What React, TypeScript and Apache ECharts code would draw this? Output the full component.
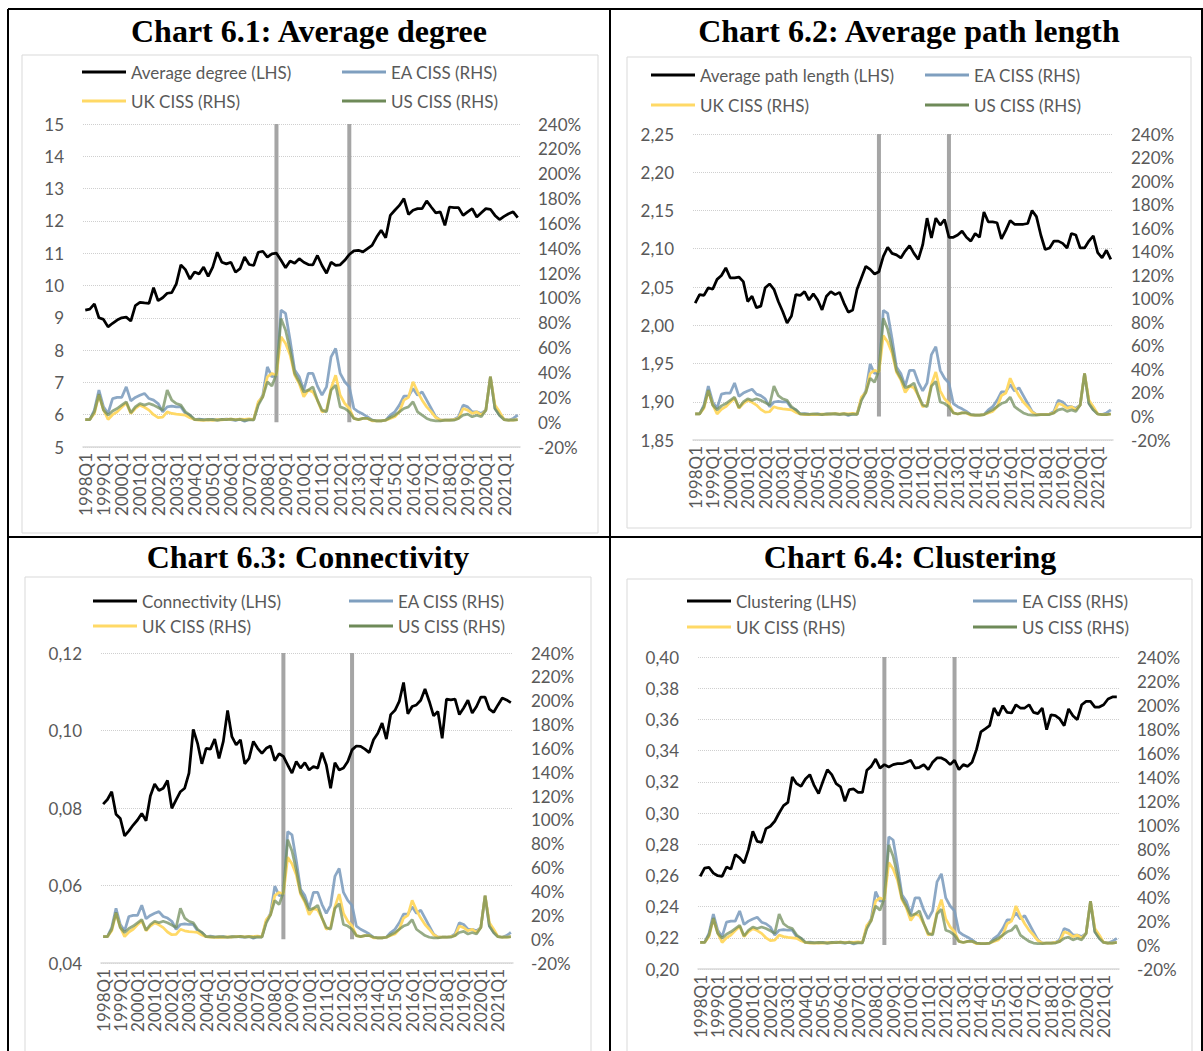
import React, { useEffect, useRef } from "react";
import * as echarts from "echarts";

// Quarterly categories 1998Q1 .. 2021Q4
const years = Array.from({ length: 24 }, (_, k) => 1998 + k);
const quarters: string[] = [];
for (const y of years) for (let q = 1; q <= 4; q++) quarters.push(`${y}Q${q}`);

// Quarters highlighted with a grey vertical marker (RHS scale, full height)
const markerQuarters = ["2008Q3", "2012Q3"];
const markerHeight = 240;

// Composite Indicator of Systemic Stress, % (RHS)
const eaCiss = [
  2.1, 2.1, 9.7, 25.8, 12.3, 7.0, 19.0, 19.9, 19.9, 28.4,
  17.1, 19.9, 21.7, 23.1, 19.0, 17.7, 15.0, 8.3, 12.3, 12.9,
  12.3, 12.3, 7.0, 5.6, 2.1, 2.5, 2.0, 1.8, 2.2, 1.6,
  2.0, 2.4, 2.0, 1.5, 2.4, 0.8, 2.2, 1.8, 15.0, 21.7,
  44.5, 36.5, 37.8, 90.2, 87.5, 66.0, 41.9, 36.5, 25.8, 39.2,
  39.2, 29.0, 21.7, 28.4, 52.6, 59.3, 39.2, 32.5, 28.4, 11.0,
  8.3, 6.5, 4.3, 1.6, 1.1, 1.1, 1.6, 5.6, 8.3, 13.7,
  20.9, 20.9, 27.1, 21.7, 24.4, 17.7, 11.0, 4.3, 1.6, 1.6,
  1.6, 2.1, 4.3, 13.7, 12.3, 8.3, 8.3, 7.0, 9.7, 36.5,
  11.0, 5.6, 2.1, 1.6, 3.0, 5.6,
];
const ukCiss = [
  2.1, 2.1, 7.0, 21.7, 10.0, 2.1, 6.0, 8.3, 12.0, 15.5,
  7.0, 11.0, 13.7, 12.0, 9.7, 6.0, 3.7, 4.0, 8.3, 7.0,
  6.4, 6.0, 5.6, 3.5, 2.1, 1.6, 1.5, 1.8, 1.5, 2.0,
  1.8, 2.2, 2.4, 2.0, 2.4, 2.2, 2.6, 2.0, 16.4, 20.4,
  36.5, 39.2, 37.8, 68.7, 63.3, 54.0, 37.8, 31.1, 20.4, 25.8,
  24.4, 17.7, 8.3, 9.7, 27.1, 37.8, 21.7, 15.0, 11.0, 3.0,
  2.1, 3.0, 3.0, 1.1, 1.1, 1.1, 1.6, 3.0, 4.3, 8.3,
  17.7, 19.9, 32.5, 24.4, 17.7, 12.3, 8.3, 3.7, 1.6, 1.6,
  1.6, 2.1, 3.0, 11.0, 9.7, 7.0, 8.3, 5.6, 9.7, 36.5,
  13.7, 8.3, 2.1, 1.6, 1.6, 2.1,
];
const usCiss = [
  2.1, 2.1, 8.3, 22.5, 9.7, 5.6, 9.0, 11.0, 13.7, 16.4,
  7.5, 12.3, 15.0, 13.7, 15.0, 13.7, 11.8, 9.7, 25.8, 17.7,
  15.0, 13.7, 8.3, 5.6, 2.1, 2.0, 1.8, 2.2, 2.0, 1.6,
  2.2, 2.0, 2.4, 1.8, 2.2, 1.5, 2.0, 1.8, 13.7, 20.4,
  32.5, 29.0, 39.2, 83.4, 74.0, 58.0, 39.2, 32.5, 24.4, 25.8,
  28.4, 17.7, 9.7, 8.3, 25.8, 29.8, 12.3, 11.0, 8.3, 3.0,
  2.1, 3.0, 3.0, 1.6, 1.1, 1.1, 1.6, 3.7, 5.6, 8.3,
  11.0, 12.3, 16.4, 8.3, 5.6, 3.0, 1.6, 1.1, 1.1, 1.6,
  1.6, 1.6, 3.0, 5.6, 6.5, 4.3, 5.6, 4.3, 9.7, 36.5,
  11.0, 5.6, 2.1, 1.6, 1.6, 2.1,
];

// Network measures (LHS)
const averageDegree = [
  9.24, 9.27, 9.43, 9.0, 8.95, 8.72, 8.83, 8.93, 9.0, 9.02,
  8.9, 9.38, 9.48, 9.46, 9.45, 9.93, 9.53, 9.62, 9.76, 9.78,
  10.05, 10.64, 10.49, 10.2, 10.42, 10.36, 10.57, 10.28, 10.57, 11.03,
  10.72, 10.67, 10.72, 10.41, 10.52, 10.88, 10.65, 10.62, 11.03, 11.06,
  10.88, 10.98, 11.0, 10.78, 10.55, 10.76, 10.69, 10.83, 10.72, 10.65,
  10.64, 10.93, 10.62, 10.38, 10.72, 10.62, 10.64, 10.78, 10.96, 11.07,
  11.09, 11.04, 11.14, 11.24, 11.5, 11.71, 11.48, 12.17, 12.33, 12.48,
  12.69, 12.2, 12.33, 12.38, 12.38, 12.62, 12.43, 12.25, 12.28, 11.86,
  12.43, 12.41, 12.41, 12.17, 12.28, 12.38, 12.12, 12.25, 12.38, 12.36,
  12.17, 12.04, 12.14, 12.22, 12.28, 12.1,
];
const averagePathLength = [
  2.029, 2.04, 2.039, 2.049, 2.047, 2.06, 2.065, 2.075, 2.062, 2.062,
  2.063, 2.057, 2.031, 2.038, 2.023, 2.025, 2.049, 2.054, 2.047, 2.031,
  2.018, 2.003, 2.012, 2.04, 2.039, 2.044, 2.033, 2.041, 2.033, 2.02,
  2.038, 2.044, 2.04, 2.043, 2.029, 2.017, 2.02, 2.047, 2.062, 2.077,
  2.073, 2.067, 2.07, 2.09, 2.102, 2.094, 2.092, 2.088, 2.097, 2.104,
  2.094, 2.086, 2.105, 2.14, 2.114, 2.14, 2.131, 2.138, 2.115, 2.115,
  2.118, 2.123, 2.115, 2.11, 2.12, 2.115, 2.148, 2.135, 2.135, 2.134,
  2.113, 2.124, 2.137, 2.132, 2.132, 2.132, 2.133, 2.15, 2.142, 2.118,
  2.099, 2.101, 2.11, 2.11, 2.107, 2.101, 2.12, 2.118, 2.101, 2.101,
  2.11, 2.117, 2.095, 2.088, 2.098, 2.086,
];
const connectivity = [
  0.081, 0.0822, 0.0842, 0.0784, 0.0773, 0.0728, 0.0741, 0.0756, 0.0769, 0.0786,
  0.0767, 0.0831, 0.0862, 0.0845, 0.0851, 0.0871, 0.0799, 0.0821, 0.0842, 0.0851,
  0.089, 0.1003, 0.0967, 0.0914, 0.0954, 0.0952, 0.0978, 0.0928, 0.0972, 0.1052,
  0.0984, 0.0963, 0.0976, 0.0914, 0.0928, 0.0972, 0.0954, 0.0941, 0.0954, 0.096,
  0.0922, 0.094, 0.0933, 0.0911, 0.089, 0.092, 0.0903, 0.0917, 0.0898, 0.0907,
  0.0903, 0.0943, 0.0911, 0.0851, 0.0917, 0.0898, 0.0903, 0.092, 0.095, 0.096,
  0.0959, 0.0952, 0.0943, 0.0976, 0.0993, 0.1019, 0.0978, 0.1041, 0.1052, 0.1075,
  0.1124, 0.1043, 0.1062, 0.1066, 0.1078, 0.1107, 0.1075, 0.1038, 0.1049, 0.098,
  0.1081, 0.1079, 0.1081, 0.1041, 0.1058, 0.1078, 0.1045, 0.1062, 0.1086, 0.1086,
  0.1055, 0.1047, 0.1066, 0.1084, 0.1079, 0.1072,
];
const clustering = [
  0.2594, 0.2647, 0.2652, 0.2615, 0.2598, 0.2594, 0.2654, 0.2641, 0.2733, 0.2712,
  0.2679, 0.2765, 0.2882, 0.2818, 0.2812, 0.29, 0.2915, 0.2947, 0.3, 0.3047,
  0.3068, 0.3231, 0.3188, 0.3171, 0.3218, 0.3246, 0.3175, 0.3124, 0.3203, 0.3278,
  0.3246, 0.3188, 0.3167, 0.3075, 0.315, 0.3154, 0.3132, 0.3132, 0.3274, 0.3299,
  0.3346, 0.3288, 0.331, 0.3295, 0.331, 0.3316, 0.3316, 0.3325, 0.3338, 0.3288,
  0.3293, 0.331, 0.3278, 0.3325, 0.3353, 0.3353, 0.3338, 0.331, 0.3338, 0.3278,
  0.331, 0.3299, 0.3325, 0.3406, 0.352, 0.354, 0.356, 0.3673, 0.3624, 0.3688,
  0.3645, 0.3641, 0.3694, 0.3673, 0.3673, 0.3694, 0.3645, 0.3637, 0.3673, 0.3534,
  0.363, 0.3624, 0.3603, 0.356, 0.3667, 0.3624, 0.3598, 0.3694, 0.3716, 0.3716,
  0.3679, 0.3679, 0.3694, 0.3731, 0.3744, 0.3744,
];

const panels = [
  { title: "Chart 6.1: Average degree", lhsName: "Average degree (LHS)", lhs: averageDegree, min: 5, max: 15, interval: 1, decimals: 0 },
  { title: "Chart 6.2: Average path length", lhsName: "Average path length (LHS)", lhs: averagePathLength, min: 1.85, max: 2.25, interval: 0.05, decimals: 2 },
  { title: "Chart 6.3: Connectivity", lhsName: "Connectivity (LHS)", lhs: connectivity, min: 0.04, max: 0.12, interval: 0.02, decimals: 2 },
  { title: "Chart 6.4: Clustering", lhsName: "Clustering (LHS)", lhs: clustering, min: 0.2, max: 0.4, interval: 0.02, decimals: 2 },
];

// Page layout of the four cells (px)
const layouts = [
  { titleX: 309, titleY: 31, frame: [22, 55, 576, 478], grid: [83, 124, 437, 323], leg: [82, 342, 72, 101] },
  { titleX: 909, titleY: 31, frame: [627, 57, 564, 471], grid: [693, 134, 420, 306], leg: [651, 925, 75, 105] },
  { titleX: 308, titleY: 557, frame: [25, 577, 566, 490], grid: [101, 653, 412, 310], leg: [93, 349, 601, 626] },
  { titleX: 910, titleY: 557, frame: [627, 579, 565, 490], grid: [698, 657, 421, 312], leg: [687, 973, 601, 627] },
];

const FONT = "Lato, 'Open Sans', sans-serif";
const LABEL = "#595959";
const EA_COLOR = "#7F9FBF";
const UK_COLOR = "#FFD966";
const US_COLOR = "#6E8A58";

function buildOption() {
  const grid: any[] = [];
  const xAxis: any[] = [];
  const yAxis: any[] = [];
  const series: any[] = [];
  const legend: any[] = [];
  const graphic: any[] = [];

  const markerData = quarters.map((q) => (markerQuarters.includes(q) ? markerHeight : null));

  panels.forEach((p, pi) => {
    const L = layouts[pi];
    const [gl, gt, gw, gh] = L.grid;
    grid.push({ left: gl, top: gt, width: gw, height: gh, containLabel: false });

    xAxis.push({
      type: "category",
      gridIndex: pi,
      data: quarters,
      boundaryGap: true,
      axisLine: { onZero: false, lineStyle: { color: "#D9D9D9", width: 1.5 } },
      axisTick: { show: false },
      axisLabel: { interval: 3, rotate: 90, fontSize: 17, color: LABEL, fontFamily: FONT, margin: 6 },
      splitLine: { show: false },
    });

    yAxis.push({
      type: "value",
      gridIndex: pi,
      position: "left",
      min: p.min,
      max: p.max,
      interval: p.interval,
      axisLine: { show: false },
      axisTick: { show: false },
      axisLabel: {
        fontSize: 17,
        color: LABEL,
        fontFamily: FONT,
        margin: 19,
        formatter: (v: number) => v.toFixed(p.decimals).replace(".", ","),
      },
      splitLine: { lineStyle: { type: "dotted", color: "#CFCFCF", width: 1 } },
    });
    yAxis.push({
      type: "value",
      gridIndex: pi,
      position: "right",
      min: -20,
      max: 240,
      interval: 20,
      axisLine: { show: false },
      axisTick: { show: false },
      axisLabel: {
        fontSize: 17,
        color: LABEL,
        fontFamily: FONT,
        margin: 18,
        formatter: (v: number) => `${Math.round(v)}%`,
      },
      splitLine: { show: false },
    });

    const lhsAxis = pi * 2;
    const rhsAxis = pi * 2 + 1;
    series.push({
      type: "bar",
      name: `markers-${pi}`,
      xAxisIndex: pi,
      yAxisIndex: rhsAxis,
      data: markerData,
      barWidth: 4,
      itemStyle: { color: "#A5A5A5" },
      silent: true,
      z: 1,
    });
    const line = (name: string, data: number[], color: string, axis: number, opacity: number, z: number) => ({
      type: "line",
      name,
      xAxisIndex: pi,
      yAxisIndex: axis,
      data,
      symbol: "none",
      smooth: false,
      lineStyle: { color, width: 2.75, opacity },
      itemStyle: { color },
      z,
    });
    series.push(line("EA CISS (RHS)", eaCiss, EA_COLOR, rhsAxis, 0.9, 2));
    series.push(line("UK CISS (RHS)", ukCiss, UK_COLOR, rhsAxis, 1, 3));
    series.push(line("US CISS (RHS)", usCiss, US_COLOR, rhsAxis, 0.72, 4));
    series.push(line(p.lhsName, p.lhs, "#000000", lhsAxis, 1, 5));

    const [x1, x2, y1, y2] = L.leg;
    const items: [string, number, number][] = [
      [p.lhsName, x1, y1],
      ["EA CISS (RHS)", x2, y1],
      ["UK CISS (RHS)", x1, y2],
      ["US CISS (RHS)", x2, y2],
    ];
    items.forEach(([name, lx, ly]) => {
      legend.push({
        data: [name],
        left: lx,
        top: ly - 8.5,
        padding: 0,
        icon: "rect",
        itemWidth: 44,
        itemHeight: 3,
        selectedMode: false,
        textStyle: { fontSize: 17, color: LABEL, fontFamily: FONT },
      });
    });

    const [fx, fy, fw, fh] = L.frame;
    graphic.push({
      type: "rect",
      shape: { x: fx, y: fy, width: fw, height: fh },
      style: { fill: "none", stroke: "#D9D9D9", lineWidth: 1 },
      silent: true,
      z: -1,
    });
    graphic.push({
      type: "text",
      x: L.titleX,
      y: L.titleY,
      style: {
        text: p.title,
        fill: "#000000",
        font: "bold 32px 'Liberation Serif', 'Times New Roman', serif",
        align: "center",
        verticalAlign: "middle",
      },
      silent: true,
    });
  });

  // Table borders around the four cells
  const border = (x1: number, y1: number, x2: number, y2: number) => ({
    type: "line",
    shape: { x1, y1, x2, y2 },
    style: { stroke: "#000000", lineWidth: 2 },
    silent: true,
    z: 10,
  });
  graphic.push(border(8, 9, 1203, 9));
  graphic.push(border(8, 9, 8, 1051));
  graphic.push(border(1202, 9, 1202, 1051));
  graphic.push(border(610, 9, 610, 1051));
  graphic.push(border(8, 537, 1203, 537));

  return {
    animation: false,
    backgroundColor: "#ffffff",
    grid,
    xAxis,
    yAxis,
    series,
    legend,
    graphic,
  };
}

export default function App() {
  const ref = useRef<HTMLDivElement>(null);
  useEffect(() => {
    if (!ref.current) return;
    const chart = echarts.init(ref.current, undefined, { renderer: "svg" });
    chart.setOption(buildOption() as any);
    return () => chart.dispose();
  }, []);
  return (
    <div
      ref={ref}
      style={{ position: "absolute", left: 0, top: 0, width: 1203, height: 1051 }}
    />
  );
}
